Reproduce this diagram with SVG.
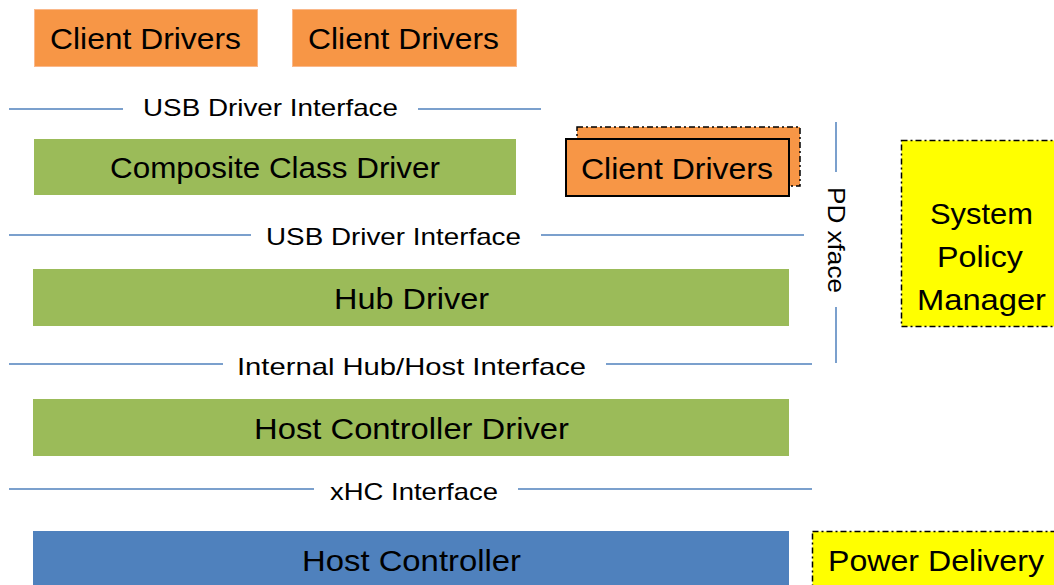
<svg xmlns="http://www.w3.org/2000/svg" width="1054" height="585" viewBox="0 0 1054 585">
<style>
.lbl{font-family:"Liberation Sans",Arial,sans-serif;font-size:30px;fill:#000;text-anchor:middle}
.ifl{font-family:"Liberation Sans",Arial,sans-serif;font-size:24px;fill:#000;text-anchor:middle}
.or{fill:#F79646;stroke:#FAB88A;stroke-width:1}
.gr{fill:#9BBB59}
.bl{fill:#4F81BD}
.ye{fill:#FFFF00;stroke:#000;stroke-width:1.5;stroke-dasharray:6 3 2 3}
.ln{stroke:#4F81BD;stroke-width:1.5;fill:none}
</style>
<rect width="1054" height="585" fill="#fff"/>
<g id="connectors">
<line class="ln" x1="9" y1="109" x2="123" y2="109"/>
<line class="ln" x1="418" y1="109" x2="541" y2="109"/>
<line class="ln" x1="9" y1="235" x2="251" y2="235"/>
<line class="ln" x1="541" y1="235" x2="804" y2="235"/>
<line class="ln" x1="9" y1="364" x2="223" y2="364"/>
<line class="ln" x1="606" y1="364" x2="812" y2="364"/>
<line class="ln" x1="9" y1="489" x2="314" y2="489"/>
<line class="ln" x1="518" y1="489" x2="812" y2="489"/>
<line class="ln" x1="836" y1="122" x2="836" y2="172"/>
<line class="ln" x1="836" y1="307" x2="836" y2="363"/>
</g>
<g id="labels">
<text class="ifl" x="270.5" y="116" textLength="255" lengthAdjust="spacingAndGlyphs">USB Driver Interface</text>
<text class="ifl" x="393.5" y="245" textLength="255" lengthAdjust="spacingAndGlyphs">USB Driver Interface</text>
<text class="ifl" x="411.5" y="375" textLength="349" lengthAdjust="spacingAndGlyphs">Internal Hub/Host Interface</text>
<text class="ifl" x="414" y="500" textLength="168" lengthAdjust="spacingAndGlyphs">xHC Interface</text>
<text class="ifl" transform="translate(828 240) rotate(90)" x="0" y="0" textLength="106" lengthAdjust="spacingAndGlyphs">PD xface</text>
</g>
<g id="client1">
<rect class="or" x="34.5" y="9.5" width="223" height="57"/>
<text class="lbl" x="145.5" y="49" textLength="191" lengthAdjust="spacingAndGlyphs">Client Drivers</text>
</g>
<g id="client2">
<rect class="or" x="292.5" y="9.5" width="224" height="57"/>
<text class="lbl" x="403.5" y="49" textLength="191" lengthAdjust="spacingAndGlyphs">Client Drivers</text>
</g>
<g id="composite">
<rect class="gr" x="34" y="139" width="482" height="56"/>
<text class="lbl" x="275" y="178" textLength="330" lengthAdjust="spacingAndGlyphs">Composite Class Driver</text>
</g>
<g id="client3">
<rect x="577" y="127" width="223" height="59" fill="#F79646" stroke="#000" stroke-width="1.5" stroke-dasharray="6 3 2 3"/>
<rect x="566" y="139" width="223" height="57" fill="#F79646" stroke="#000" stroke-width="2"/>
<text class="lbl" x="677" y="179" textLength="192" lengthAdjust="spacingAndGlyphs">Client Drivers</text>
</g>
<g id="hub">
<rect class="gr" x="33" y="269" width="756" height="57"/>
<text class="lbl" x="411.5" y="309" textLength="155" lengthAdjust="spacingAndGlyphs">Hub Driver</text>
</g>
<g id="hcd">
<rect class="gr" x="33" y="399" width="756" height="57"/>
<text class="lbl" x="411.5" y="439" textLength="315" lengthAdjust="spacingAndGlyphs">Host Controller Driver</text>
</g>
<g id="hc">
<rect class="bl" x="33" y="531" width="756" height="60"/>
<text class="lbl" x="411.5" y="571" textLength="219" lengthAdjust="spacingAndGlyphs">Host Controller</text>
</g>
<g id="spm">
<rect class="ye" x="901.5" y="140.5" width="155" height="186"/>
<text class="lbl" x="981.5" y="224" textLength="103" lengthAdjust="spacingAndGlyphs">System</text>
<text class="lbl" x="980" y="267" textLength="86" lengthAdjust="spacingAndGlyphs">Policy</text>
<text class="lbl" x="981.5" y="310" textLength="129" lengthAdjust="spacingAndGlyphs">Manager</text>
</g>
<g id="pd">
<rect class="ye" x="812.5" y="531.5" width="245" height="60"/>
<text class="lbl" x="936" y="571" textLength="216" lengthAdjust="spacingAndGlyphs">Power Delivery</text>
</g>
</svg>
